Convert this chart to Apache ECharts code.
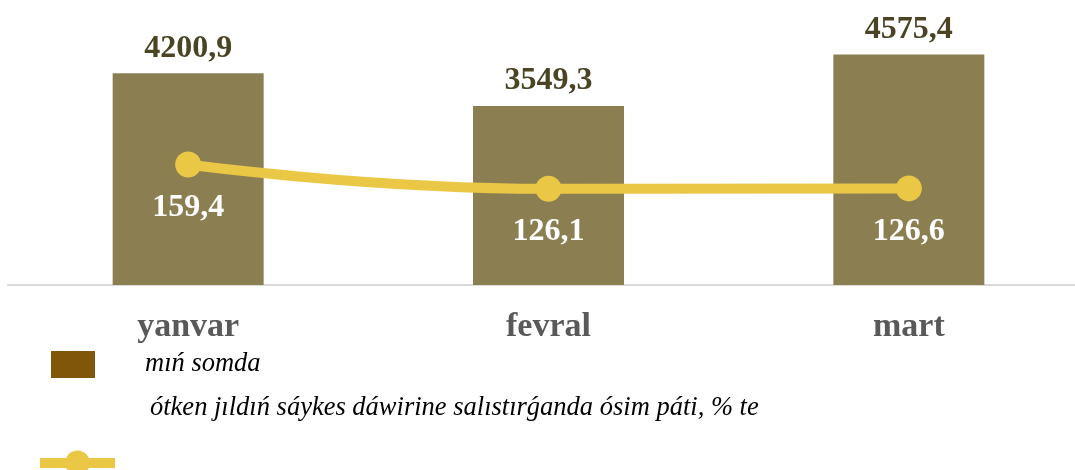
<!DOCTYPE html>
<html>
<head>
<meta charset="utf-8">
<script src="https://cdn.jsdelivr.net/npm/echarts@6/dist/echarts.min.js"></script>
<style>
  html, body { margin: 0; padding: 0; background: #fff; }
  #chart { width: 1075px; height: 470px; }
</style>
</head>
<body>
<div id="chart"></div>
<script>
// kategoriyalar (aylar)
const months = ['yanvar', 'fevral', 'mart'];
// mıń somda
const barName = 'mıń somda';
const barValues = [4200.9, 3549.3, 4575.4];
// ósim páti, %
const lineName = 'ótken jıldıń sáykes dáwirine salıstırǵanda ósim páti, % te';
const lineValues = [159.4, 126.1, 126.6];

const serif = '"Liberation Serif", "DejaVu Serif", serif';
const fmt = (v) => v.toFixed(1).replace('.', ',');

const chart = echarts.init(document.getElementById('chart'));

chart.setOption({
  animation: false,
  grid: {
    left: 8,
    width: 1081,
    top: 33,
    bottom: 185,
    outerBoundsMode: 'none'
  },
  legend: [
    {
      data: [{ name: barName, itemStyle: { color: '#80560A' } }],
      left: 51,
      top: 351,
      padding: 0,
      icon: 'rect',
      itemWidth: 44,
      itemHeight: 27,
      textStyle: {
        fontFamily: serif,
        fontStyle: 'italic',
        fontSize: 26.5,
        color: '#000',
        padding: [0, 0, 0, 45]
      }
    },
    {
      // text sits one line above the icon (second line is blank)
      data: [lineName],
      left: 35,
      top: 353,
      padding: 0,
      itemWidth: 75,
      itemHeight: 31,
      lineStyle: { width: 10, color: '#EBC746' },
      formatter: (name) => name + '\n ',
      textStyle: {
        fontFamily: serif,
        fontStyle: 'italic',
        fontSize: 26.5,
        lineHeight: 110,
        color: '#000',
        padding: [0, 0, 0, 30]
      }
    }
  ],
  xAxis: {
    type: 'category',
    data: months,
    axisTick: { show: false },
    axisLine: { lineStyle: { color: '#d9d9d9', width: 2 } },
    axisLabel: {
      margin: 25,
      fontFamily: serif,
      fontWeight: 'bold',
      fontSize: 34,
      color: '#595959'
    }
  },
  yAxis: [
    { type: 'value', min: 0, max: 5000, show: false, splitLine: { show: false } },
    { type: 'value', min: -6, max: 340, show: false, splitLine: { show: false } }
  ],
  series: [
    {
      name: barName,
      type: 'bar',
      data: barValues,
      barWidth: 151,
      itemStyle: { color: '#8B7F52' },
      label: {
        show: true,
        position: 'top',
        distance: 9,
        formatter: (p) => fmt(p.value),
        fontFamily: serif,
        fontWeight: 'bold',
        fontSize: 32,
        color: '#4A4424'
      }
    },
    {
      name: lineName,
      type: 'line',
      yAxisIndex: 1,
      data: lineValues,
      smooth: true,
      symbol: 'circle',
      symbolSize: 26,
      lineStyle: { color: '#EBC746', width: 10 },
      itemStyle: { color: '#EBC746' },
      label: {
        show: true,
        position: 'bottom',
        distance: 14,
        formatter: (p) => fmt(p.value),
        fontFamily: serif,
        fontWeight: 'bold',
        fontSize: 32,
        color: '#fff'
      }
    }
  ]
});
</script>
</body>
</html>
